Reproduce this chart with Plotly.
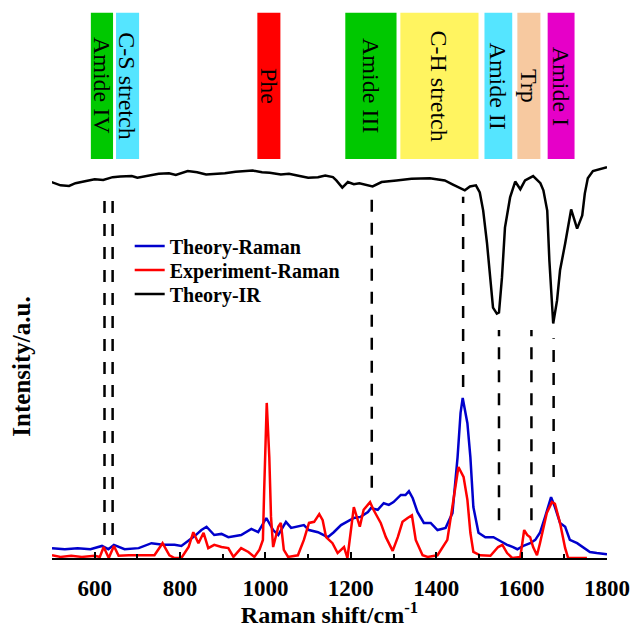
import plotly.graph_objects as go

# ---------------- data ----------------
ir_x = [499, 520, 540, 555, 580, 600, 620, 642, 660, 687, 700, 730, 750, 774, 790, 818, 840, 861, 880,
        905, 930, 948, 970, 992, 1010, 1036, 1055, 1080, 1100, 1123, 1140, 1158, 1166, 1180, 1193, 1207,
        1220, 1251, 1272, 1307, 1342, 1385, 1420, 1438, 1455, 1467, 1479, 1493, 1502, 1510, 1519, 1526,
        1533, 1542, 1547, 1554, 1561, 1573, 1585, 1597, 1608, 1627, 1644, 1651, 1660, 1665, 1672, 1674,
        1683, 1690, 1702, 1716, 1730, 1742, 1748, 1755, 1767, 1800]
ir_y = [68.6, 68.0, 67.9, 68.4, 68.8, 69.1, 69.0, 69.5, 69.6, 69.7, 69.4, 69.8, 70.1, 70.2, 69.9, 70.6, 70.4, 70.0, 70.1,
        70.2, 70.5, 70.6, 70.7, 70.4, 70.3, 70.0, 70.1, 69.7, 69.4, 69.5, 69.8, 69.5, 68.9, 67.6, 68.6, 68.2,
        68.4, 67.8, 68.6, 68.9, 69.2, 69.3, 68.9, 68.2, 67.6, 67.1, 67.8, 68.0, 66.7, 63.4, 57.4, 51.2,
        45.7, 44.6, 44.8, 51.2, 60.3, 65.8, 68.7, 67.3, 68.9, 69.7, 68.4, 67.1, 63.4, 54.3, 43.3, 42.8,
        47.0, 52.5, 57.4, 63.6, 60.1, 62.5, 66.5, 69.3, 70.6, 71.3]

theo_x = [500, 530, 560, 590, 617, 632, 645, 670, 703, 733, 760, 787, 803, 820, 834, 850, 862, 880, 897,
          913, 943, 967, 983, 1002, 1018, 1030, 1048, 1060, 1076, 1090, 1102, 1123, 1146, 1160, 1177, 1192,
          1207, 1223, 1240, 1247, 1263, 1277, 1289, 1300, 1317, 1328, 1336, 1345, 1356, 1371, 1387, 1403,
          1422, 1438, 1450, 1457, 1462, 1473, 1480, 1487, 1499, 1515, 1534, 1550, 1566, 1580, 1590, 1604,
          1620, 1632, 1643, 1655, 1669, 1678, 1690, 1702, 1713, 1730, 1743, 1760, 1776, 1800]
theo_y = [1.8, 1.6, 1.8, 1.6, 2.2, 1.6, 2.4, 1.6, 1.8, 2.7, 2.4, 2.4, 2.2, 3.1, 4.0, 5.1, 5.7, 4.2, 4.4,
          3.8, 4.2, 5.3, 4.7, 7.3, 5.1, 4.2, 6.6, 5.5, 5.7, 6.0, 5.1, 4.7, 3.8, 4.7, 6.0, 6.6,
          7.3, 7.5, 8.4, 9.1, 8.8, 10.0, 9.7, 10.2, 11.5, 11.5, 12.2, 10.9, 8.4, 6.4, 6.4, 5.1,
          5.5, 8.2, 18.4, 26.5, 29.2, 24.6, 18.4, 9.3, 4.6, 3.8, 3.8, 3.1, 2.4, 2.0, 1.6, 2.2,
          2.7, 3.3, 4.6, 7.5, 11.1, 9.3, 6.4, 5.7, 3.3, 2.7, 2.0, 1.1, 0.9, 0.7]

exp_x = [500, 520, 545, 570, 600, 612, 621, 633, 645, 656, 680, 710, 740, 759, 775, 787, 803, 820, 831,
         843, 855, 866, 880, 897, 913, 925, 943, 960, 974, 986, 994, 997, 1003, 1009, 1013, 1018, 1030,
         1036, 1043, 1053, 1076, 1090, 1102, 1114, 1126, 1134, 1142, 1157, 1169, 1184, 1192, 1207, 1216,
         1221, 1230, 1245, 1253, 1270, 1282, 1298, 1310, 1321, 1333, 1343, 1352, 1368, 1380, 1403, 1426,
         1438, 1452, 1464, 1473, 1480, 1487, 1503, 1527, 1545, 1555, 1566, 1578, 1597, 1606, 1613, 1620,
         1627, 1636, 1643, 1659, 1671, 1678, 1690, 1702, 1709, 1730, 1753]
exp_y = [0.5, 0.2, 0.4, 0.2, 0.4, 0.2, 2.0, 0.0, 2.2, 0.4, 0.5, 0.5, 0.5, 2.7, 0.5, 0.0, 0.0, 2.0, 4.7,
         2.7, 4.6, 1.8, 2.4, 2.0, 1.8, 0.2, 1.8, 1.1, 0.2, 1.5, 3.3, 12.4, 28.3, 18.4, 7.5, 2.0, 5.7,
         6.4, 1.5, 0.2, 0.5, 3.3, 6.4, 6.6, 8.0, 6.9, 3.8, 2.7, 0.9, 2.0, 0.0, 9.3, 6.9,
         5.7, 8.8, 10.2, 8.8, 6.4, 3.8, 1.3, 3.8, 6.6, 7.3, 7.8, 3.3, 0.5, 0.2, 0.5, 3.3,
         9.3, 16.6, 14.8, 10.6, 4.6, 1.1, 0.5, 0.4, 2.0, 2.4, 0.9, 0.0, 0.2, 5.1, 4.2, 3.8,
         2.0, 0.5, 2.7, 8.2, 10.2, 9.9, 6.4, 1.8, 0.0, 0.0, 0.0]

band_labels = ["Amide IV", "C-S stretch", "Phe", "Amide III", "C-H stretch", "Amide II", "Trp", "Amide I"]
band_start = [591, 650, 981, 1187, 1316, 1513, 1590, 1661]
band_end = [643, 704, 1035, 1307, 1499, 1578, 1644, 1724]
band_colors = ["#00C800", "#55E5FF", "#FF0000", "#00C800", "#FFF460", "#55E5FF", "#F7C9A0", "#E600C8"]
band_bottom, band_top = 72.8, 99.5

dash_x = [623, 642, 1249, 1463, 1547, 1623, 1675]
dash_top = [65.9, 65.9, 65.9, 65.9, 41.6, 41.6, 40.1]
dash_bottom = [4.2, 4.2, 12.8, 31.2, 6.9, 6.9, 14.8]

x_ticks = [600, 800, 1000, 1200, 1400, 1600, 1800]

# ---------------- figure ----------------
SERIF = "Liberation Serif"
fig = go.Figure()
fig.add_trace(go.Scatter(x=theo_x, y=theo_y, mode="lines", name="Theory-Raman", legend="legend",
                         line=dict(color="#0000CC", width=2.5)))
fig.add_trace(go.Scatter(x=exp_x, y=exp_y, mode="lines", name="Experiment-Raman", legend="legend2",
                         line=dict(color="#FF0000", width=2.5)))
fig.add_trace(go.Scatter(x=ir_x, y=ir_y, mode="lines", name="Theory-IR", legend="legend3",
                         line=dict(color="#000000", width=2.5)))

for lab, x0, x1, c in zip(band_labels, band_start, band_end, band_colors):
    fig.add_shape(type="rect", x0=x0, x1=x1, y0=band_bottom, y1=band_top,
                  fillcolor=c, line=dict(width=0), layer="below")
    fig.add_annotation(x=(x0 + x1) / 2, y=(band_bottom + band_top) / 2, text=lab,
                       textangle=90, showarrow=False,
                       font=dict(family=SERIF, size=24, color="black"))

for xv, yt, yb in zip(dash_x, dash_top, dash_bottom):
    fig.add_shape(type="line", x0=xv, x1=xv, y0=yb, y1=yt,
                  line=dict(color="black", width=2.5, dash="12px,11px"))

# y-axis title (placed below the axis middle, as in the original)
fig.add_annotation(xref="paper", yref="paper", x=-0.055, y=0.35, text="<b>Intensity/a.u.</b>",
                   textangle=-90, showarrow=False, xanchor="center", yanchor="middle",
                   font=dict(family=SERIF, size=25, color="black"))

leg_font = dict(family=SERIF, size=20, color="black", weight="bold")
leg_common = dict(xanchor="left", yanchor="middle", bgcolor="rgba(0,0,0,0)", borderwidth=0,
                  font=leg_font)
fig.update_layout(
    width=634, height=628,
    margin=dict(l=52, r=27, t=10, b=70),
    paper_bgcolor="white", plot_bgcolor="white",
    showlegend=True,
    legend=dict(x=0.14, y=(558 - 246) / 548, **leg_common),
    legend2=dict(x=0.14, y=(558 - 270) / 548, **leg_common),
    legend3=dict(x=0.14, y=(558 - 294) / 548, **leg_common),
)
fig.update_xaxes(range=[500, 1800], tickmode="array", tickvals=x_ticks,
                 ticktext=[str(v) for v in x_ticks], automargin=False,
                 showline=True, linecolor="black", linewidth=2,
                 ticks="inside", ticklen=6, tickwidth=2, tickcolor="black",
                 minor=dict(ticks="inside", ticklen=4, tickwidth=2, tickcolor="black",
                            tickmode="linear", tick0=500, dtick=100),
                 showgrid=False, zeroline=False, ticklabelstandoff=8,
                 tickfont=dict(family=SERIF, size=23, color="black", weight="bold"),
                 title=dict(text="Raman shift/cm<sup>-1</sup>", standoff=6,
                            font=dict(family=SERIF, size=24, color="black", weight="bold")))
fig.update_yaxes(range=[0, 100], showline=False, showticklabels=False, ticks="",
                 showgrid=False, zeroline=False, automargin=False)

fig.write_html("out.html")
